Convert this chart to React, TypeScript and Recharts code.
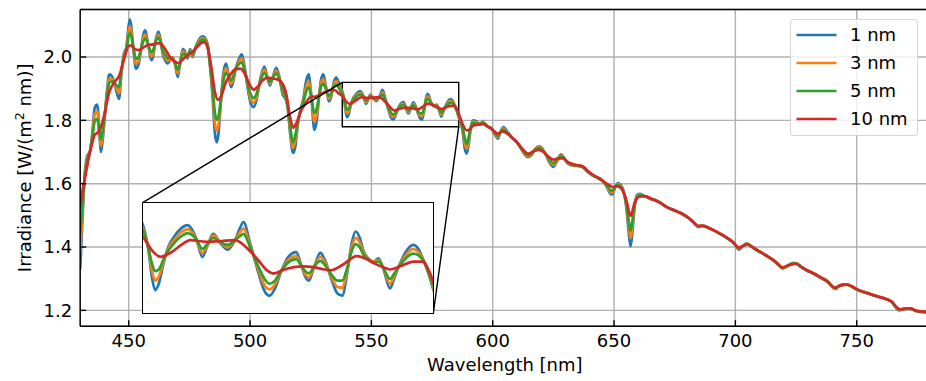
import React from "react";
import {
  LineChart,
  Line,
  XAxis,
  YAxis,
  CartesianGrid,
  ReferenceLine,
  ReferenceArea,
} from "recharts";

// Wavelength grid (nm) shared by the 1, 3 and 5 nm smoothed spectra
const wavelengthFine = [
  430, 431, 432, 433, 434, 435, 436, 437, 438, 438.5, 439, 440, 441, 442, 443, 444, 445, 446, 447, 448, 449,
  450, 450.5, 451, 452, 453, 454, 455, 456, 456.8, 458, 459.3, 460, 461, 462.2, 463, 464, 465, 466, 467, 468, 469,
  470.2, 471, 472.3, 473, 474.2, 475.3, 476.3, 477.5, 479, 480.5, 481.5, 482.5, 483.5, 484.5, 485.5, 486.3, 487, 488, 489,
  490.1, 491, 492.1, 493, 494, 495.5, 496.6, 497.5, 498.5, 499.5, 500.5, 501.4, 502.5, 503.5, 504.5, 505.9, 507, 508.2, 509.5,
  510.8, 512, 513.5, 514.5, 515.5, 516.5, 517.7, 518.7, 519.7, 521, 522, 523, 524.1, 525.2, 526.5, 527.5, 528.5, 529.3, 530.2, 531.2, 532.5, 533.3, 534.5, 535.5, 536.5, 537.5,
  538, 538.9, 539.5, 540, 540.6, 541.4, 542.2, 543.1, 544.3, 545.4, 546.2, 546.8, 547.8, 548.6, 549.6, 550.8, 552, 553.2, 554, 554.6,
  555.7, 557.1, 558, 558.9, 559.8, 560.7, 562, 563.3, 564.2, 564.8, 565.4, 566.3, 567.3, 568.2, 569.2, 570.1, 570.9, 571.8, 572.5, 573.1,
  573.8, 574.4, 575.2, 576.1, 576.9, 577.7, 578.8, 579.5, 580.2, 581.4, 582.6, 583.5, 584.3, 585.2, 585.9,
  586.5, 587.5, 588.5, 589.3, 590.2, 591, 592, 593.5, 594.8, 595.8, 596.8, 598, 599.5, 600.5, 601.5, 602.2, 603, 604.4, 605.5, 606.5,
  608, 609.5, 611, 612.5, 614.5, 616, 617.5, 619.3, 620.5, 622, 623.5, 625, 626.5, 628.1, 629.5, 631, 633, 635, 637, 639,
  641, 643, 645, 647, 648.5, 649.3, 650.5, 651.7, 652.8, 654, 655, 656, 656.8, 657.6, 658.5, 659.5, 660.7,
  662, 663.5, 665, 666.5, 668, 669, 670, 672, 675, 678, 681, 683, 684.7, 686.5, 688.5, 690.5, 692.5, 695, 697.5, 699.5,
  701.4, 702.8, 704.6, 706, 708, 710, 712.5, 715, 717.5, 719.5, 721.5, 723.5, 725, 727, 729.5, 732, 735, 738, 740.5, 741.5,
  743, 745.5, 747.5, 750, 753, 756, 759, 762, 764.5, 766.5, 767.5, 769, 771, 773, 774.5, 776, 778, 780,
];

// Irradiance, 1 nm bandwidth [W/(m^2 nm)]
const irr1nm = [
  1.33, 1.5, 1.64, 1.69, 1.7, 1.76, 1.84, 1.85, 1.75, 1.7, 1.72, 1.8, 1.89, 1.945, 1.94, 1.92, 1.89, 1.868, 1.95, 2.01, 2.03,
  2.1, 2.118, 2.1, 2.02, 1.963, 1.975, 2.02, 2.07, 2.084, 2.04, 1.99, 2.0, 2.05, 2.08, 2.06, 2.01, 1.99, 1.98, 1.99, 2.0, 1.98,
  1.937, 1.97, 2.026, 2.02, 1.995, 2.025, 2.0, 2.03, 2.055, 2.065, 2.06, 2.04, 1.97, 1.88, 1.76, 1.73, 1.76, 1.86, 1.95,
  1.979, 1.95, 1.905, 1.92, 1.96, 1.995, 2.008, 1.98, 1.93, 1.88, 1.85, 1.842, 1.86, 1.9, 1.94, 1.97, 1.94, 1.91, 1.94,
  1.966, 1.94, 1.88, 1.87, 1.84, 1.76, 1.697, 1.72, 1.79, 1.84, 1.87, 1.92, 1.945, 1.88, 1.77, 1.8, 1.88, 1.93, 1.945, 1.91, 1.86, 1.87, 1.92, 1.935, 1.92, 1.9,
  1.892, 1.86, 1.825, 1.81, 1.818, 1.844, 1.865, 1.877, 1.888, 1.892, 1.885, 1.875, 1.852, 1.865, 1.881, 1.869, 1.861, 1.873, 1.888, 1.896,
  1.869, 1.831, 1.81, 1.803, 1.812, 1.831, 1.852, 1.858, 1.84, 1.827, 1.822, 1.84, 1.857, 1.845, 1.822, 1.806, 1.803, 1.835, 1.87, 1.884,
  1.876, 1.86, 1.85, 1.846, 1.85, 1.837, 1.812, 1.825, 1.839, 1.858, 1.867, 1.862, 1.848, 1.83, 1.812,
  1.8, 1.77, 1.71, 1.695, 1.73, 1.78, 1.8, 1.795, 1.789, 1.795, 1.79, 1.78, 1.775, 1.76, 1.748, 1.742, 1.76, 1.779, 1.77, 1.76,
  1.745, 1.735, 1.72, 1.7, 1.684, 1.69, 1.71, 1.718, 1.71, 1.69, 1.665, 1.653, 1.672, 1.693, 1.68, 1.663, 1.657, 1.656, 1.652, 1.638,
  1.626, 1.62, 1.612, 1.59, 1.568, 1.566, 1.59, 1.602, 1.595, 1.575, 1.53, 1.45, 1.402, 1.45, 1.53, 1.565, 1.568,
  1.563, 1.558, 1.552, 1.55, 1.545, 1.54, 1.535, 1.525, 1.515, 1.505, 1.49, 1.477, 1.463, 1.468, 1.462, 1.455, 1.447, 1.436, 1.424, 1.412,
  1.392, 1.4, 1.412, 1.405, 1.394, 1.385, 1.374, 1.362, 1.346, 1.332, 1.34, 1.349, 1.349, 1.338, 1.326, 1.318, 1.305, 1.292, 1.27, 1.268,
  1.279, 1.282, 1.277, 1.266, 1.258, 1.25, 1.243, 1.236, 1.226, 1.205, 1.2, 1.204, 1.206, 1.204, 1.198, 1.196, 1.195, 1.192,
];

// Irradiance, 3 nm bandwidth
const irr3nm = [
  1.385, 1.52, 1.635, 1.683, 1.7, 1.753, 1.819, 1.828, 1.755, 1.72, 1.738, 1.805, 1.881, 1.931, 1.931, 1.92, 1.9, 1.886, 1.954, 2.005, 2.026,
  2.084, 2.097, 2.084, 2.022, 1.978, 1.987, 2.02, 2.06, 2.071, 2.04, 2.002, 2.01, 2.048, 2.071, 2.055, 2.016, 1.999, 1.988, 1.992, 1.998, 1.981,
  1.948, 1.974, 2.018, 2.014, 1.998, 2.022, 2.004, 2.029, 2.051, 2.06, 2.055, 2.037, 1.975, 1.896, 1.792, 1.766, 1.787, 1.864, 1.937,
  1.965, 1.946, 1.915, 1.928, 1.96, 1.987, 1.996, 1.972, 1.932, 1.89, 1.864, 1.856, 1.87, 1.902, 1.935, 1.96, 1.939, 1.916, 1.938,
  1.957, 1.936, 1.888, 1.875, 1.845, 1.772, 1.712, 1.737, 1.79, 1.838, 1.863, 1.904, 1.925, 1.878, 1.796, 1.819, 1.88, 1.918, 1.93, 1.905, 1.868, 1.876, 1.914, 1.924, 1.911, 1.895,
  1.888, 1.862, 1.834, 1.822, 1.827, 1.846, 1.863, 1.873, 1.883, 1.887, 1.882, 1.874, 1.857, 1.866, 1.879, 1.87, 1.864, 1.873, 1.883, 1.888,
  1.866, 1.835, 1.817, 1.811, 1.817, 1.832, 1.848, 1.853, 1.84, 1.83, 1.826, 1.84, 1.852, 1.843, 1.825, 1.814, 1.813, 1.838, 1.865, 1.876,
  1.87, 1.858, 1.85, 1.846, 1.848, 1.838, 1.818, 1.828, 1.839, 1.854, 1.862, 1.858, 1.848, 1.831, 1.814,
  1.802, 1.775, 1.727, 1.71, 1.74, 1.779, 1.796, 1.793, 1.789, 1.793, 1.789, 1.78, 1.774, 1.762, 1.751, 1.746, 1.76, 1.775, 1.767, 1.759,
  1.745, 1.735, 1.72, 1.702, 1.687, 1.692, 1.709, 1.715, 1.708, 1.691, 1.669, 1.659, 1.67, 1.69, 1.679, 1.664, 1.658, 1.657, 1.653, 1.639,
  1.627, 1.62, 1.612, 1.592, 1.574, 1.572, 1.59, 1.599, 1.593, 1.573, 1.535, 1.468, 1.427, 1.467, 1.532, 1.561, 1.566,
  1.562, 1.558, 1.552, 1.55, 1.545, 1.54, 1.535, 1.525, 1.515, 1.505, 1.49, 1.477, 1.464, 1.468, 1.462, 1.455, 1.447, 1.436, 1.424, 1.412,
  1.394, 1.401, 1.411, 1.405, 1.394, 1.385, 1.374, 1.362, 1.346, 1.333, 1.34, 1.348, 1.348, 1.338, 1.326, 1.318, 1.305, 1.292, 1.271, 1.27,
  1.279, 1.282, 1.277, 1.266, 1.258, 1.25, 1.243, 1.236, 1.226, 1.206, 1.201, 1.204, 1.206, 1.204, 1.198, 1.196, 1.195, 1.192,
];

// Irradiance, 5 nm bandwidth
const irr5nm = [
  1.445, 1.54, 1.63, 1.675, 1.7, 1.745, 1.798, 1.805, 1.76, 1.74, 1.755, 1.81, 1.873, 1.918, 1.923, 1.92, 1.91, 1.904, 1.958, 2.0, 2.021,
  2.068, 2.077, 2.068, 2.025, 1.994, 1.999, 2.023, 2.05, 2.059, 2.039, 2.015, 2.02, 2.046, 2.062, 2.05, 2.022, 2.008, 1.996, 1.995, 1.996, 1.983,
  1.96, 1.977, 2.009, 2.009, 2.0, 2.018, 2.008, 2.028, 2.046, 2.055, 2.05, 2.035, 1.98, 1.911, 1.825, 1.802, 1.813, 1.867, 1.924,
  1.95, 1.941, 1.926, 1.937, 1.961, 1.979, 1.983, 1.965, 1.933, 1.899, 1.878, 1.87, 1.881, 1.905, 1.93, 1.95, 1.937, 1.921, 1.936,
  1.948, 1.932, 1.895, 1.88, 1.848, 1.785, 1.73, 1.754, 1.797, 1.835, 1.856, 1.888, 1.905, 1.877, 1.823, 1.838, 1.88, 1.907, 1.916, 1.9, 1.877, 1.883, 1.908, 1.914, 1.903, 1.89,
  1.885, 1.863, 1.843, 1.834, 1.836, 1.849, 1.86, 1.869, 1.878, 1.882, 1.879, 1.874, 1.862, 1.868, 1.876, 1.87, 1.867, 1.873, 1.878, 1.881,
  1.864, 1.839, 1.825, 1.818, 1.822, 1.833, 1.845, 1.849, 1.84, 1.834, 1.831, 1.84, 1.847, 1.84, 1.829, 1.822, 1.822, 1.84, 1.86, 1.868,
  1.864, 1.855, 1.849, 1.845, 1.846, 1.838, 1.824, 1.831, 1.839, 1.85, 1.856, 1.854, 1.847, 1.832, 1.817,
  1.805, 1.78, 1.744, 1.725, 1.751, 1.778, 1.792, 1.79, 1.788, 1.791, 1.787, 1.78, 1.774, 1.764, 1.755, 1.75, 1.761, 1.771, 1.765, 1.757,
  1.745, 1.735, 1.72, 1.704, 1.69, 1.695, 1.707, 1.712, 1.706, 1.691, 1.674, 1.665, 1.676, 1.687, 1.679, 1.666, 1.66, 1.657, 1.654, 1.64,
  1.628, 1.62, 1.611, 1.595, 1.58, 1.578, 1.59, 1.596, 1.59, 1.571, 1.54, 1.485, 1.451, 1.484, 1.535, 1.557, 1.564,
  1.562, 1.558, 1.553, 1.549, 1.544, 1.54, 1.535, 1.525, 1.515, 1.505, 1.49, 1.477, 1.465, 1.467, 1.462, 1.455, 1.447, 1.436, 1.424, 1.412,
  1.395, 1.401, 1.41, 1.405, 1.394, 1.385, 1.374, 1.362, 1.347, 1.334, 1.341, 1.347, 1.348, 1.338, 1.326, 1.317, 1.304, 1.291, 1.273, 1.271,
  1.278, 1.281, 1.277, 1.266, 1.258, 1.25, 1.243, 1.236, 1.227, 1.207, 1.203, 1.204, 1.206, 1.204, 1.198, 1.196, 1.195, 1.192,
];

// Wavelength grid (nm) for the 10 nm smoothed spectrum
const wavelengthSmooth = [
  430, 431, 432, 433, 434, 435, 436, 437, 438, 439, 440, 442, 444, 446, 448, 450, 451, 452.5, 454, 456,
  458, 460, 462, 463.5, 465, 467, 469, 470.5, 472, 474, 476, 478, 480, 481, 482.5, 484, 485.5, 486.8, 488, 490,
  492, 494, 496, 498, 500, 501.5, 503, 505, 507, 509, 511, 513, 515, 516.5, 517.8, 519, 521, 523, 525, 527,
  529, 531, 533, 535, 536.5, 538, 539.5, 540.9, 542, 543.1, 544.5, 545.8, 548.5, 551, 553.2, 555.2, 557, 558.5, 559.6, 561,
  562.9, 564.5, 566.2, 568, 569, 571, 573.3, 575, 576.1, 578, 578.8, 580.5, 582.7, 584.3, 585.2, 586, 587.5, 589.3, 591, 592,
  594, 596, 598, 600, 602, 604, 606, 608, 610, 612, 614.7, 617, 619, 621, 623, 625, 627, 629, 631, 634,
  637, 640, 643, 646, 648, 649.5, 651, 653, 655, 656.8, 658.5, 660.7, 663, 666, 669, 672, 675, 678, 681, 684.5,
  687, 690, 693, 696, 699, 701.5, 703, 705, 707, 710, 713, 716, 719.5, 722, 725, 727.5, 730, 734, 738, 741,
  743.5, 746, 748, 751, 755, 759, 762.5, 764.5, 766.5, 768, 770, 772, 774, 777, 780,
];

// Irradiance, 10 nm bandwidth
const irr10nm = [
  1.526, 1.58, 1.62, 1.66, 1.7, 1.73, 1.755, 1.76, 1.77, 1.79, 1.82, 1.89, 1.92, 1.94, 1.99, 2.035, 2.036, 2.025, 2.022, 2.03,
  2.038, 2.04, 2.044, 2.04, 2.025, 2.0, 1.985, 1.981, 1.99, 2.005, 2.015, 2.03, 2.045, 2.047, 2.03, 1.97, 1.89, 1.865, 1.875, 1.92,
  1.945, 1.962, 1.963, 1.945, 1.91, 1.897, 1.905, 1.925, 1.935, 1.932, 1.93, 1.92, 1.88, 1.81, 1.777, 1.79, 1.83, 1.855, 1.874, 1.875,
  1.883, 1.89, 1.895, 1.895, 1.885, 1.877, 1.86, 1.852, 1.855, 1.86, 1.868, 1.873, 1.871, 1.872, 1.873, 1.863, 1.848, 1.835, 1.831, 1.835,
  1.839, 1.84, 1.839, 1.836, 1.835, 1.842, 1.853, 1.849, 1.844, 1.838, 1.836, 1.84, 1.846, 1.846, 1.835, 1.82, 1.79, 1.768, 1.775, 1.784,
  1.786, 1.788, 1.78, 1.77, 1.758, 1.765, 1.758, 1.745, 1.73, 1.712, 1.695, 1.703, 1.707, 1.7, 1.685, 1.676, 1.68, 1.68, 1.668, 1.66,
  1.655, 1.635, 1.62, 1.605, 1.595, 1.589, 1.592, 1.585, 1.55, 1.498, 1.54, 1.56, 1.56, 1.55, 1.54, 1.525, 1.515, 1.505, 1.49, 1.468,
  1.466, 1.457, 1.445, 1.432, 1.415, 1.398, 1.403, 1.408, 1.4, 1.386, 1.372, 1.357, 1.336, 1.343, 1.347, 1.335, 1.325, 1.308, 1.29, 1.272,
  1.279, 1.281, 1.276, 1.263, 1.253, 1.243, 1.235, 1.227, 1.21, 1.203, 1.205, 1.206, 1.2, 1.196, 1.193,
];

const seriesNames = ["1 nm", "3 nm", "5 nm", "10 nm"];
const seriesColors = ["#1f77b4", "#ff7f0e", "#2ca02c", "#d62728"];

const xTicks = [450, 500, 550, 600, 650, 700, 750];
const yTicks = [1.2, 1.4, 1.6, 1.8, 2.0];

const X_DOMAIN: [number, number] = [430, 780];
const Y_DOMAIN: [number, number] = [1.15, 2.15];

// zoomed window and where the inset axes sit (in data coordinates of the main axes)
const ZOOM = { x0: 538, x1: 586, y0: 1.78, y1: 1.92 };
const INSET = { x0: 455.75, x1: 575.5, y0: 1.19, y1: 1.54 };

const toRows = (wl: number[], vals: number[]) => wl.map((w, i) => ({ wl: w, val: vals[i] }));

const series = [
  toRows(wavelengthFine, irr1nm),
  toRows(wavelengthFine, irr3nm),
  toRows(wavelengthFine, irr5nm),
  toRows(wavelengthSmooth, irr10nm),
];

// layout
const FONT = "'DejaVu Sans', 'Liberation Sans', sans-serif";
const CHART_W = 940;
const CHART_H = 381;
const PLOT_LEFT = 80.2;
const PLOT_TOP = 9.5;
const PLOT_RIGHT = 929.5;
const PLOT_BOTTOM = 326.2;
const Y_AXIS_W = 60;
const X_AXIS_H = 30;
const LINE_W = 2.7;
const SPINE_W = 1.4;

const PLOT_W = PLOT_RIGHT - PLOT_LEFT;
const PLOT_H = PLOT_BOTTOM - PLOT_TOP;
const px = (x: number) => PLOT_LEFT + ((x - X_DOMAIN[0]) / (X_DOMAIN[1] - X_DOMAIN[0])) * PLOT_W;
const py = (y: number) => PLOT_TOP + ((Y_DOMAIN[1] - y) / (Y_DOMAIN[1] - Y_DOMAIN[0])) * PLOT_H;

const insetLeft = px(INSET.x0);
const insetRight = px(INSET.x1);
const insetTop = py(INSET.y1);
const insetBottom = py(INSET.y0);
const insetW = insetRight - insetLeft;
const insetH = insetBottom - insetTop;

const tickStyle = { fontSize: 18, fill: "#000", fontFamily: FONT };

const YTitle = () => {
  const cx = 31.5;
  const cy = PLOT_TOP + PLOT_H / 2;
  return (
    <text
      x={cx}
      y={cy}
      transform={`rotate(-90 ${cx} ${cy})`}
      textAnchor="middle"
      fontSize={18}
      fontFamily={FONT}
      fill="#000"
    >
      Irradiance [W/(m
      <tspan dy={-7} fontSize={12.6}>2</tspan>
      <tspan dy={7}> nm)]</tspan>
    </text>
  );
};

const LegendBox = () => (
  <div
    style={{
      position: "absolute",
      left: 790,
      top: 19,
      width: 128,
      height: 117,
      boxSizing: "border-box",
      background: "rgba(255,255,255,0.8)",
      border: "1px solid rgba(204,204,204,0.8)",
      borderRadius: 4,
      fontFamily: FONT,
      fontSize: 18,
    }}
  >
    {seriesNames.map((name, i) => (
      <div
        key={name}
        style={{ position: "absolute", left: 5, top: 15 + i * 28 - 14, height: 28, display: "flex", alignItems: "center" }}
      >
        <svg width={41} height={6} style={{ display: "block" }}>
          <line x1={0.5} x2={40.5} y1={3} y2={3} stroke={seriesColors[i]} strokeWidth={LINE_W} />
        </svg>
        <span style={{ marginLeft: 13, lineHeight: "28px", color: "#000", whiteSpace: "nowrap" }}>{name}</span>
      </div>
    ))}
  </div>
);

const InsetChart = () => {
  const rows = series.map((s) => s.filter((r) => r.wl >= ZOOM.x0 - 4 && r.wl <= ZOOM.x1 + 4));
  return (
    <div
      style={{
        position: "absolute",
        left: insetLeft,
        top: insetTop,
        width: insetW,
        height: insetH,
        background: "#fff",
      }}
    >
      <LineChart width={insetW} height={insetH} margin={{ top: 0, right: 0, bottom: 0, left: 0 }}>
        <XAxis type="number" dataKey="wl" domain={[ZOOM.x0, ZOOM.x1]} allowDataOverflow hide />
        <YAxis type="number" domain={[ZOOM.y0, ZOOM.y1]} allowDataOverflow hide />
        {rows.map((d, i) => (
          <Line
            key={seriesNames[i]}
            data={d}
            dataKey="val"
            type="monotone"
            stroke={seriesColors[i]}
            strokeWidth={LINE_W}
            dot={false}
            activeDot={false}
            isAnimationActive={false}
          />
        ))}
      </LineChart>
      <div
        style={{
          position: "absolute",
          left: -SPINE_W / 2,
          top: -SPINE_W / 2,
          width: insetW + SPINE_W,
          height: insetH + SPINE_W,
          boxSizing: "border-box",
          border: `${SPINE_W}px solid #000`,
          pointerEvents: "none",
        }}
      />
    </div>
  );
};

export default function App() {
  return (
    <div
      style={{
        position: "absolute",
        left: 0,
        top: 0,
        width: 926,
        height: 381,
        overflow: "hidden",
        background: "#fff",
      }}
    >
      <LineChart
        width={CHART_W}
        height={CHART_H}
        margin={{
          top: PLOT_TOP,
          right: CHART_W - PLOT_RIGHT,
          bottom: CHART_H - PLOT_BOTTOM - X_AXIS_H,
          left: PLOT_LEFT - Y_AXIS_W,
        }}
      >
        <CartesianGrid stroke="#b0b0b0" strokeWidth={1.4} />
        <XAxis
          type="number"
          dataKey="wl"
          domain={X_DOMAIN}
          ticks={xTicks}
          allowDataOverflow
          height={X_AXIS_H}
          tick={tickStyle}
          tickSize={-6}
          tickMargin={14}
          tickLine={{ stroke: "#000", strokeWidth: SPINE_W }}
          axisLine={{ stroke: "#000", strokeWidth: SPINE_W }}
          label={{ value: "Wavelength [nm]", position: "bottom", offset: 2, fontSize: 18, fill: "#000", fontFamily: FONT }}
        />
        <YAxis
          type="number"
          domain={Y_DOMAIN}
          ticks={yTicks}
          allowDataOverflow
          width={Y_AXIS_W}
          tick={tickStyle}
          tickFormatter={(v: number) => v.toFixed(1)}
          tickSize={-6}
          tickMargin={14}
          tickLine={{ stroke: "#000", strokeWidth: SPINE_W }}
          axisLine={{ stroke: "#000", strokeWidth: SPINE_W }}
          label={<YTitle />}
        />
        <ReferenceLine y={Y_DOMAIN[1]} stroke="#000" strokeWidth={SPINE_W} />
        {series.map((d, i) => (
          <Line
            key={seriesNames[i]}
            data={d}
            dataKey="val"
            type="monotone"
            stroke={seriesColors[i]}
            strokeWidth={LINE_W}
            dot={false}
            activeDot={false}
            isAnimationActive={false}
          />
        ))}
        <ReferenceArea
          x1={ZOOM.x0}
          x2={ZOOM.x1}
          y1={ZOOM.y0}
          y2={ZOOM.y1}
          fill="none"
          fillOpacity={0}
          stroke="#000"
          strokeWidth={SPINE_W}
          strokeOpacity={1}
        />
        <ReferenceLine
          segment={[
            { x: ZOOM.x0, y: ZOOM.y1 },
            { x: INSET.x0, y: INSET.y1 },
          ]}
          stroke="#000"
          strokeWidth={SPINE_W}
          ifOverflow="visible"
        />
        <ReferenceLine
          segment={[
            { x: ZOOM.x1, y: ZOOM.y0 },
            { x: INSET.x1, y: INSET.y0 },
          ]}
          stroke="#000"
          strokeWidth={SPINE_W}
          ifOverflow="visible"
        />
      </LineChart>
      <InsetChart />
      <LegendBox />
    </div>
  );
}
